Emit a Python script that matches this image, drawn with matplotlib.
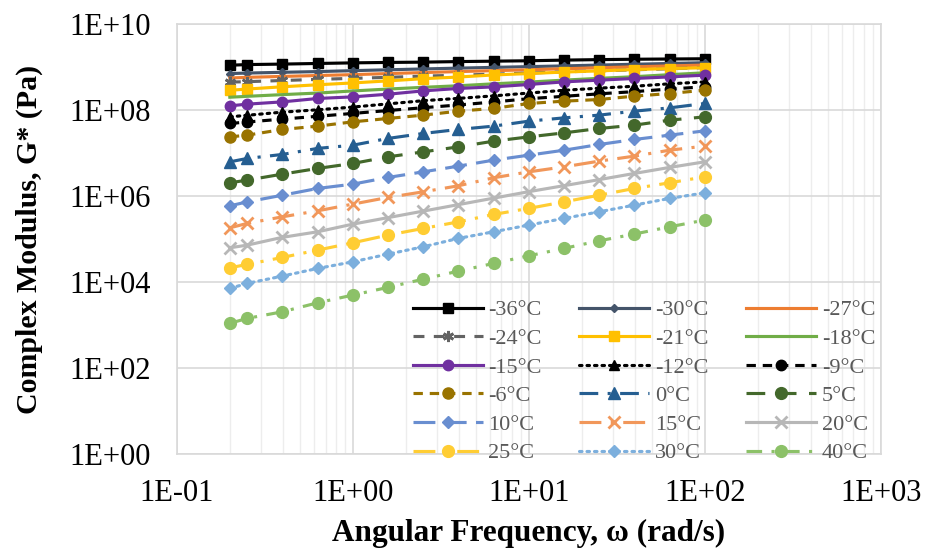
import numpy as np
import matplotlib
matplotlib.use("Agg")
import matplotlib.pyplot as plt
from matplotlib.ticker import FixedLocator, FuncFormatter, LogLocator, NullFormatter

plt.rcParams['font.family'] = ['Liberation Serif', 'DejaVu Serif']

freq = [0.2, 0.251, 0.398, 0.631, 1.0, 1.585, 2.512, 3.981, 6.31, 10.0,
        15.85, 25.12, 39.81, 63.1, 100.0]

temps = ["-36°C", "-30°C", "-27°C", "-24°C", "-21°C", "-18°C", "-15°C", "-12°C",
         "-9°C", "-6°C", "0°C", "5°C", "10°C", "15°C", "20°C", "25°C", "30°C", "40°C"]

g_m36 = [1.11e9, 1.15e9, 1.18e9, 1.22e9, 1.26e9, 1.29e9, 1.31e9, 1.35e9, 1.38e9, 1.41e9,
         1.46e9, 1.50e9, 1.53e9, 1.55e9, 1.57e9]
g_m30 = [7.1e8, 7.3e8, 7.6e8, 7.9e8, 8.3e8, 8.7e8, 9.1e8, 9.5e8, 9.9e8, 1.03e9,
         1.07e9, 1.12e9, 1.17e9, 1.22e9, 1.27e9]
g_m27 = [5.6e8, 5.8e8, 6.1e8, 6.4e8, 6.7e8, 7.1e8, 7.5e8, 7.9e8, 8.3e8, 8.7e8,
         9.2e8, 9.7e8, 1.02e9, 1.07e9, 1.12e9]
g_m24 = [4.5e8, 4.6e8, 4.9e8, 5.2e8, 5.5e8, 5.8e8, 6.2e8, 6.5e8, 6.9e8, 7.3e8,
         7.8e8, 8.2e8, 8.7e8, 9.2e8, 9.8e8]
g_m21 = [2.9e8, 3.1e8, 3.5e8, 3.9e8, 4.3e8, 4.8e8, 5.4e8, 5.9e8, 6.6e8, 7.1e8,
         7.7e8, 8.2e8, 8.8e8, 9.3e8, 9.7e8]
g_m18 = [2.0e8, 2.1e8, 2.3e8, 2.5e8, 2.8e8, 3.1e8, 3.4e8, 3.7e8, 4.1e8, 4.5e8,
         5.0e8, 5.5e8, 6.0e8, 6.7e8, 7.4e8]
g_m15 = [1.26e8, 1.38e8, 1.56e8, 1.87e8, 2.04e8, 2.35e8, 2.81e8, 3.20e8, 3.48e8, 3.96e8,
         4.55e8, 4.99e8, 5.46e8, 5.94e8, 6.52e8]
g_m12 = [7.0e7, 7.6e7, 9.0e7, 1.02e8, 1.18e8, 1.40e8, 1.66e8, 1.88e8, 2.15e8, 2.50e8,
         2.90e8, 3.25e8, 3.60e8, 4.10e8, 4.55e8]
g_m9 = [4.9e7, 5.3e7, 6.2e7, 7.2e7, 8.4e7, 9.8e7, 1.14e8, 1.32e8, 1.55e8, 1.85e8,
        2.1e8, 2.4e8, 2.7e8, 3.1e8, 3.5e8]
g_m6 = [2.39e7, 2.62e7, 3.56e7, 4.25e7, 5.35e7, 6.41e7, 7.66e7, 9.48e7, 1.10e8, 1.43e8,
        1.62e8, 1.77e8, 2.12e8, 2.44e8, 2.92e8]
g_0 = [6.28e6, 7.53e6, 9.33e6, 1.29e7, 1.53e7, 2.20e7, 2.87e7, 3.56e7, 4.25e7, 5.55e7,
       6.62e7, 7.66e7, 9.48e7, 1.13e8, 1.43e8]
g_5 = [2.04e6, 2.36e6, 3.25e6, 4.41e6, 5.75e6, 8.20e6, 1.07e7, 1.40e7, 1.90e7, 2.39e7,
       2.96e7, 3.75e7, 4.48e7, 5.85e7, 6.98e7]
g_10 = [5.94e5, 7.36e5, 1.05e6, 1.51e6, 1.90e6, 2.72e6, 3.67e6, 4.99e6, 6.87e6, 8.97e6,
        1.17e7, 1.59e7, 2.08e7, 2.62e7, 3.30e7]
g_15 = [1.83e5, 2.32e5, 3.30e5, 4.55e5, 6.52e5, 9.33e5, 1.26e6, 1.74e6, 2.67e6, 3.67e6,
        4.80e6, 6.52e6, 8.51e6, 1.17e7, 1.46e7]
g_20 = [6.28e4, 7.24e4, 1.10e5, 1.48e5, 2.23e5, 3.16e5, 4.48e5, 6.34e5, 8.97e5, 1.27e6,
        1.75e6, 2.42e6, 3.37e6, 4.65e6, 6.28e6]
g_25 = [2.15e4, 2.58e4, 3.75e4, 5.55e4, 8.20e4, 1.24e5, 1.77e5, 2.52e5, 3.75e5, 5.18e5,
        7.36e5, 1.05e6, 1.51e6, 2.04e6, 2.81e6]
g_30 = [7.13e3, 9.33e3, 1.38e4, 2.08e4, 2.96e4, 4.48e4, 6.62e4, 1.04e5, 1.48e5, 2.12e5,
        3.03e5, 4.32e5, 6.18e5, 8.85e5, 1.19e6]
g_40 = [1.10e3, 1.43e3, 2.04e3, 3.30e3, 4.99e3, 7.53e3, 1.17e4, 1.80e4, 2.72e4, 4.09e4,
        6.08e4, 9.12e4, 1.31e5, 1.93e5, 2.77e5]

series = [g_m36, g_m30, g_m27, g_m24, g_m21, g_m18, g_m15, g_m12, g_m9, g_m6,
          g_0, g_5, g_10, g_15, g_20, g_25, g_30, g_40]

x_ticks = [0.1, 1, 10, 100, 1000]
y_ticks = [1, 1e2, 1e4, 1e6, 1e8, 1e10]

DOT = (0, (0.8, 1.6))
STAR = (6, 2, 0)
# style per series: color, linestyle, marker, markersize
styles = [
    ("#000000", "-", "s", 7.5),
    ("#44546A", "-", "D", 4.5),
    ("#ED7D31", "-", None, 0),
    ("#636363", (0, (3.5, 3.0)), STAR, 8.0),
    ("#FFC000", "-", "s", 7.5),
    ("#70AD47", "-", None, 0),
    ("#7030A0", "-", "o", 7.5),
    ("#000000", DOT, "^", 7.5),
    ("#000000", (0, (3.0, 2.2)), "o", 7.5),
    ("#997300", (0, (3.0, 2.2)), "o", 8.0),
    ("#255E91", (0, (6, 3, 1, 3)), "^", 8.0),
    ("#43682B", (0, (6, 4)), "o", 8.5),
    ("#698ED0", (0, (7, 3)), "D", 6.5),
    ("#F1975A", (0, (7, 3, 1, 3)), "x", 8.0),
    ("#B7B7B7", "-", "x", 8.0),
    ("#FFCD33", (0, (7, 3, 1, 3)), "o", 8.5),
    ("#7CAFDD", DOT, "D", 6.5),
    ("#8CC168", (0, (5, 3, 1, 3)), "o", 8.5),
]

fig = plt.figure(figsize=(9.26, 5.5), dpi=100)
ax = fig.add_axes([0.191, 0.1745, 0.76, 0.7815])

handles = []
for name, vals, (c, ls, mk, ms) in zip(temps, series, styles):
    mew = 2.0 if mk in ("x", STAR) else 1.0
    h, = ax.plot(freq, vals, color=c, linestyle=ls, linewidth=2.25, marker=mk,
                 markersize=ms, markeredgewidth=mew, markerfacecolor=c,
                 markeredgecolor=c, label=name,
                 dash_capstyle="round" if ls == DOT else "butt")
    handles.append(h)

ax.set_xscale("log")
ax.set_yscale("log")
ax.set_xlim(0.1, 1000)
ax.set_ylim(1, 1e10)

fmt = FuncFormatter(lambda v, p: "1E{:+03d}".format(int(round(np.log10(v)))))
ax.xaxis.set_major_locator(FixedLocator(x_ticks))
ax.yaxis.set_major_locator(FixedLocator(y_ticks))
ax.xaxis.set_major_formatter(fmt)
ax.yaxis.set_major_formatter(fmt)
ax.xaxis.set_minor_locator(LogLocator(base=10, subs=np.arange(2, 10), numticks=20))
ax.xaxis.set_minor_formatter(NullFormatter())
ax.yaxis.set_minor_locator(FixedLocator([]))

ax.grid(True, which="major", color="#D9D9D9", linewidth=1.2)
ax.grid(True, which="minor", axis="x", color="#EDEDED", linewidth=1.0)
ax.set_axisbelow(True)
for s in ax.spines.values():
    s.set_color("#D9D9D9")
    s.set_linewidth(1.2)

ax.tick_params(axis="both", which="both", length=0, labelsize=22, colors="#000000")
ax.tick_params(axis="x", pad=18)
ax.tick_params(axis="y", pad=18.5)

ax.set_xlabel("Angular Frequency, ω (rad/s)", fontsize=22.5, fontweight="bold", labelpad=8)
ax.set_ylabel("Complex Modulus, G* (Pa)", fontsize=21.5, fontweight="bold", labelpad=19)

# legend filled row by row (3 columns)
order = [r * 3 + c for c in range(3) for r in range(6)]
leg = ax.legend([handles[i] for i in order], [temps[i] for i in order],
                ncol=3, loc="lower right", bbox_to_anchor=(0.9925, -0.022), frameon=False,
                fontsize=16, handlelength=3.15, handletextpad=0.25, columnspacing=1.7,
                labelspacing=0.363, borderaxespad=0.0, borderpad=0.0)
for t in leg.get_texts():
    t.set_color("#595959")

fig.savefig("out.png", dpi=100)
